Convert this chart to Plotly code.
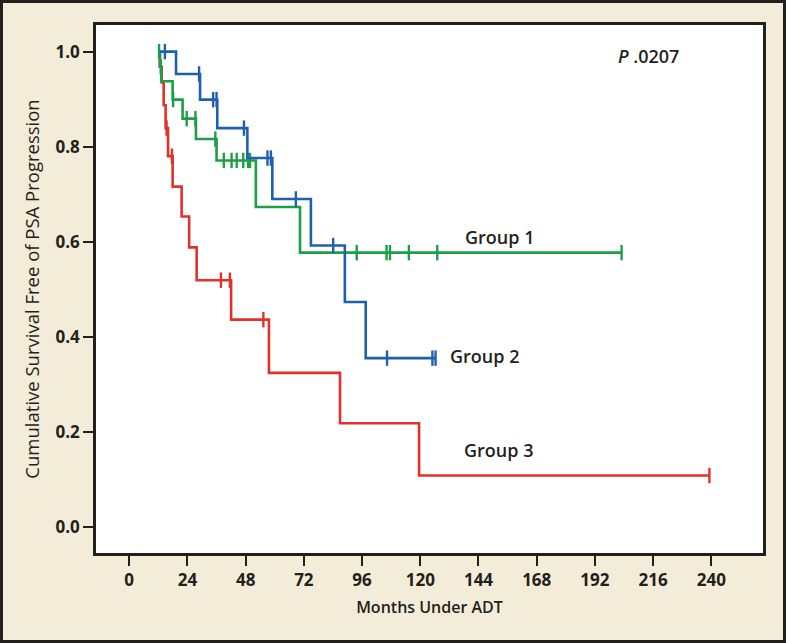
import plotly.graph_objects as go

# ---- data ----
g1_times = [12.0, 12.7, 13.2, 17.9, 22.0, 27.5, 36.0, 52.2, 70.4, 203.0]
g1_surv = [1.0, 0.968, 0.9375, 0.899, 0.859, 0.816, 0.771, 0.673, 0.577, 0.577]
g1_cens = [12.3, 13.0, 18.1, 23.7, 27.3, 35.5, 39.0, 42.2, 44.3, 47.0, 49.0, 49.8,
           93.8, 106.1, 107.5, 115.3, 127.0, 203.0]

g2_times = [12.5, 19.3, 29.2, 36.3, 48.7, 59.0, 74.9, 88.9, 97.5, 126.3]
g2_surv = [1.0, 0.953, 0.899, 0.839, 0.776, 0.69, 0.592, 0.473, 0.355, 0.355]
g2_cens = [14.7, 28.8, 34.6, 36.0, 47.3, 57.0, 58.4, 68.7, 84.1, 106.3, 125.0, 126.3]

g3_times = [12.0, 12.6, 13.4, 14.2, 15.0, 16.0, 17.9, 21.6, 24.7, 27.8, 42.0, 57.6,
            86.9, 119.5, 239.2]
g3_surv = [1.0, 0.968, 0.935, 0.887, 0.839, 0.78, 0.716, 0.653, 0.588, 0.519, 0.436,
           0.324, 0.218, 0.108, 0.108]
g3_cens = [15.4, 17.6, 37.8, 41.5, 55.3, 239.2]

x_ticks = [0, 24, 48, 72, 96, 120, 144, 168, 192, 216, 240]
y_ticks = [0.0, 0.2, 0.4, 0.6, 0.8, 1.0]
y_tick_text = ["0.0", "0.2", "0.4", "0.6", "0.8", "1.0"]

groups = [
    ("Group 1", g1_times, g1_surv, g1_cens, "#1E9E46"),
    ("Group 2", g2_times, g2_surv, g2_cens, "#1F60AE"),
    ("Group 3", g3_times, g3_surv, g3_cens, "#E0312B"),
]
label_pos = {"Group 1": (137.5, 0.61), "Group 2": (131.4, 0.36), "Group 3": (137.2, 0.161)}


def surv_at(times, surv, t):
    s = surv[0]
    for ti, si in zip(times, surv):
        if ti <= t:
            s = si
    return s


BG = "#F3ECD9"
DARK = "#231F1C"
FONT = "Open Sans"

fig = go.Figure()
# draw order: group 3 (red) under, then green, then blue
for name, times, surv, cens, color in [groups[2], groups[0], groups[1]]:
    fig.add_trace(go.Scatter(
        x=times, y=surv, mode="lines", line=dict(color=color, width=2.6, shape="hv"),
        showlegend=False, hoverinfo="skip"))
    fig.add_trace(go.Scatter(
        x=cens, y=[surv_at(times, surv, c) for c in cens], mode="markers",
        marker=dict(symbol="line-ns-open", size=11, color=color,
                    line=dict(color=color, width=2.4)),
        showlegend=False, hoverinfo="skip"))

for name, *_ in groups:
    lx, ly = label_pos[name]
    fig.add_annotation(x=lx, y=ly, text=name, showarrow=False, xanchor="left",
                       yanchor="middle", font=dict(family=FONT, size=18, color=DARK, weight=600))

fig.add_annotation(x=200.6, y=0.99, text="<i>P</i> .0207", showarrow=False, xanchor="left",
                   yanchor="middle", font=dict(family=FONT, size=18, color=DARK, weight=600))

L, R, T, B = 96, 23, 25, 90
W, H = 786, 643
pw, ph = W - L - R, H - T - B
fig.add_shape(type="rect", xref="paper", yref="paper",
              x0=-(L - 1.5) / pw, x1=1 + (R - 1.5) / pw,
              y0=-(B - 1.5) / ph, y1=1 + (T - 1.5) / ph,
              line=dict(color=DARK, width=3), layer="below")

fig.update_layout(
    width=W, height=H,
    margin=dict(l=L, r=R, t=T, b=B, pad=0),
    paper_bgcolor=BG, plot_bgcolor="white",
    font=dict(family=FONT, color=DARK),
    xaxis=dict(range=[-13.7, 261.3], tickmode="array", tickvals=x_ticks,
               showgrid=False, zeroline=False, showline=True, mirror=True,
               linecolor=DARK, linewidth=2.5, ticks="outside", ticklen=10, tickwidth=1.5,
               tickcolor=DARK, tickfont=dict(family=FONT, size=17, color=DARK, weight="bold"),
               title=dict(text="Months Under ADT", standoff=12,
                          font=dict(family=FONT, size=16, color=DARK, weight=600))),
    yaxis=dict(range=[-0.055, 1.056], tickmode="array", tickvals=y_ticks, ticktext=y_tick_text,
               showgrid=False, zeroline=False, showline=True, mirror=True,
               linecolor=DARK, linewidth=2.5, ticks="outside", ticklen=10, tickwidth=1.5,
               tickcolor=DARK, tickfont=dict(family=FONT, size=17, color=DARK, weight="bold"),
               title=dict(text="Cumulative Survival Free of PSA Progression", standoff=12,
                          font=dict(family=FONT, size=18.5, color=DARK, weight=500))),
)

fig.write_html("out.html", config={"displayModeBar": False},
               post_script="document.body.style.margin='0';")
